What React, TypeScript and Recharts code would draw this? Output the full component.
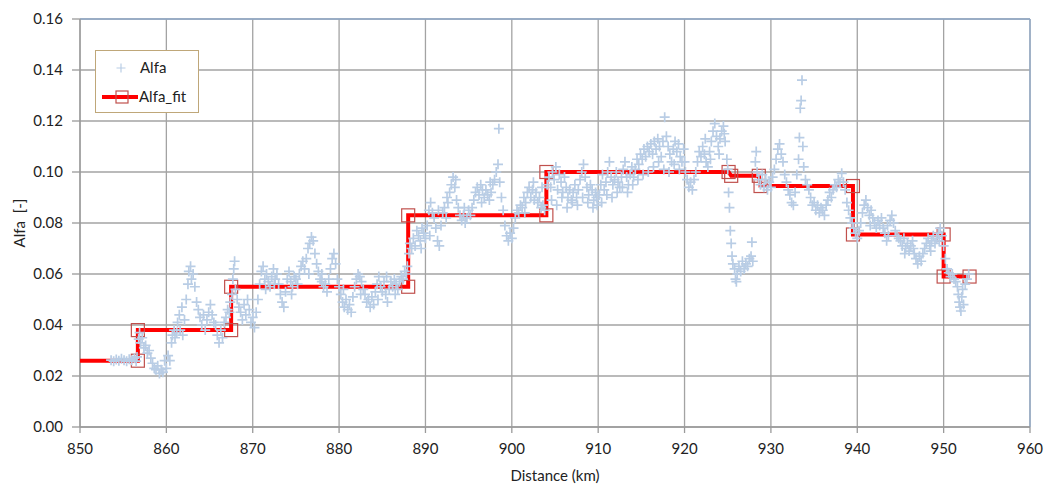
import React from 'react';
import { ScatterChart, Scatter, XAxis, YAxis, CartesianGrid, ReferenceLine } from 'recharts';

const xTicks = [850, 860, 870, 880, 890, 900, 910, 920, 930, 940, 950, 960];
const yTicks = [0, 0.02, 0.04, 0.06, 0.08, 0.1, 0.12, 0.14, 0.16];

// measured Alfa values: [distance km, alfa]
const alfaPoints: [number, number][] = [
  [853.6,0.0262],[853.9,0.0258],[854.2,0.0265],[854.5,0.026],[854.8,0.0268],[855.1,0.0262],[855.4,0.0258],[855.7,0.0266],[856.0,0.0262],[856.3,0.027],[856.5,0.0258],[856.6,0.0275],
  [856.8,0.0345],[856.9,0.037],[857.0,0.033],[857.2,0.035],[857.4,0.031],[857.6,0.032],[857.8,0.029],[858.0,0.03],[858.2,0.027],[858.4,0.025],[858.6,0.023],[858.8,0.0225],[859.0,0.024],[859.2,0.021],[859.4,0.0225],[859.6,0.0215],[859.8,0.026],[860.0,0.023],[860.2,0.028],[860.4,0.026],
  [860.6,0.033],[860.7,0.036],[860.9,0.038],[861.0,0.035],[861.2,0.037],[861.3,0.041],[861.5,0.044],[861.6,0.038],[861.8,0.047],[861.9,0.036],[862.1,0.042],[862.3,0.05],[862.5,0.056],[862.6,0.061],[862.8,0.063],[862.9,0.058],[863.1,0.06],[863.3,0.055],[863.5,0.049],[863.7,0.046],
  [863.9,0.043],[864.1,0.04],[864.3,0.044],[864.5,0.038],[864.7,0.042],[864.9,0.045],[865.1,0.048],[865.3,0.044],[865.5,0.041],[865.7,0.04],[865.9,0.036],[866.1,0.033],[866.3,0.038],[866.5,0.035],[866.7,0.041],[866.9,0.043],[867.1,0.046],[867.3,0.045],[867.4,0.049],
  [867.6,0.052],[867.7,0.058],[867.8,0.062],[867.9,0.065],[868.0,0.054],[868.2,0.05],[868.4,0.047],[868.6,0.045],[868.8,0.042],[869.0,0.048],[869.2,0.044],[869.4,0.05],[869.6,0.046],[869.8,0.041],[870.0,0.043],[870.2,0.039],[870.4,0.045],[870.6,0.05],
  [870.8,0.056],[871.0,0.061],[871.2,0.063],[871.4,0.058],[871.6,0.06],[871.8,0.057],[872.0,0.055],[872.2,0.059],[872.4,0.062],[872.6,0.058],[872.8,0.06],[873.0,0.056],[873.2,0.052],[873.4,0.049],[873.6,0.047],[873.8,0.053],[874.0,0.058],[874.2,0.061],[874.4,0.057],[874.6,0.055],[874.8,0.059],[875.0,0.058],[875.2,0.056],[875.4,0.06],[875.6,0.063],[875.8,0.065],
  [871.5,0.054],[872.5,0.056],[874.5,0.052],[876.5,0.06],[878.0,0.06],[880.5,0.054],[882.5,0.052],[884.5,0.05],[886.5,0.052],[885.5,0.059],
  [876.0,0.062],[876.2,0.066],[876.4,0.07],[876.6,0.072],[876.8,0.0745],[877.0,0.073],[877.2,0.068],[877.4,0.064],[877.6,0.061],[877.8,0.058],[878.0,0.057],[878.2,0.055],[878.4,0.056],[878.6,0.053],[878.8,0.058],[879.0,0.062],[879.2,0.066],[879.4,0.068],[879.6,0.064],[879.8,0.058],[880.0,0.055],
  [880.2,0.052],[880.4,0.049],[880.6,0.047],[880.8,0.05],[881.0,0.046],[881.2,0.048],[881.4,0.045],[881.6,0.051],[881.8,0.055],[882.0,0.058],[882.2,0.06],[882.4,0.059],[882.6,0.057],[882.8,0.054],[883.0,0.052],[883.2,0.049],[883.4,0.05],[883.6,0.047],[883.8,0.051],[884.0,0.048],
  [884.2,0.053],[884.4,0.056],[884.6,0.059],[884.8,0.055],[885.0,0.053],[885.2,0.057],[885.4,0.052],[885.6,0.049],[885.8,0.054],[886.0,0.057],[886.2,0.055],[886.4,0.058],[886.6,0.056],[886.8,0.054],[887.0,0.057],[887.2,0.059],[887.4,0.058],[887.6,0.061],[887.8,0.06],[887.9,0.063],
  [888.1,0.068],[888.2,0.072],[888.4,0.07],[888.6,0.074],[888.8,0.071],[889.0,0.077],[889.2,0.075],[889.4,0.073],[889.6,0.078],[889.8,0.076],[890.0,0.074],[890.2,0.079],[890.4,0.085],[890.6,0.088],[890.8,0.084],[891.0,0.082],[891.2,0.078],[891.4,0.073],[891.6,0.071],[891.8,0.079],
  [889.5,0.07],[890.5,0.075],[891.5,0.085],[892.5,0.09],[893.5,0.097],[894.5,0.086],[896.5,0.088],[897.5,0.096],[901.5,0.084],[902.5,0.096],[903.5,0.094],
  [892.0,0.084],[892.2,0.086],[892.4,0.082],[892.6,0.088],[892.8,0.092],[893.0,0.095],[893.2,0.098],[893.4,0.094],[893.6,0.089],[893.8,0.086],[894.0,0.083],[894.2,0.081],[894.4,0.083],[894.6,0.08],[894.8,0.082],[895.0,0.085],[895.2,0.083],[895.4,0.086],[895.6,0.089],[895.8,0.092],[896.0,0.094],[896.2,0.091],[896.4,0.095],[896.6,0.093],[896.8,0.09],[897.0,0.093],[897.2,0.091],[897.4,0.089],[897.6,0.092],[897.8,0.095],
  [898.0,0.097],[898.2,0.1],[898.4,0.103],[898.5,0.117],[898.6,0.096],[898.8,0.09],[899.0,0.085],[899.2,0.079],[899.4,0.075],[899.6,0.073],[899.8,0.076],[900.0,0.074],[900.2,0.078],[900.4,0.082],[900.6,0.085],[900.8,0.084],[901.0,0.087],[901.2,0.086],[901.4,0.09],[901.6,0.088],[901.8,0.092],[902.0,0.094],[902.2,0.09],[902.4,0.093],[902.6,0.089],[902.8,0.092],[903.0,0.088],[903.2,0.09],[903.4,0.086],[903.6,0.087],[903.8,0.085],
  [904.1,0.095],[904.3,0.098],[904.5,0.094],[904.7,0.1],[904.9,0.097],[905.1,0.102],[905.3,0.093],[905.5,0.099],[905.7,0.096],[905.9,0.092],[906.1,0.098],[906.3,0.094],[906.5,0.09],[906.7,0.093],[906.9,0.089],[907.1,0.092],[907.3,0.095],[907.5,0.09],[907.7,0.093],[907.9,0.097],[908.1,0.1],[908.3,0.103],[908.5,0.098],[908.7,0.094],[908.9,0.091],[909.1,0.095],[909.3,0.093],[909.5,0.089],[909.7,0.092],[909.9,0.087],
  [904.6,0.089],[905.2,0.087],[905.8,0.09],[906.4,0.086],[907.0,0.088],[907.6,0.087],[908.2,0.09],[908.8,0.088],[909.4,0.086],[909.8,0.09],
  [910.1,0.091],[910.3,0.095],[910.5,0.099],[910.7,0.093],[910.9,0.096],[911.1,0.1],[911.3,0.104],[911.5,0.098],[911.7,0.095],[911.9,0.097],[912.1,0.1],[912.3,0.096],[912.5,0.094],[912.7,0.098],[912.9,0.101],[913.1,0.104],[913.3,0.098],[913.5,0.095],[913.7,0.099],[913.9,0.102],[914.1,0.098],[914.3,0.101],[914.5,0.105],[914.7,0.103],[914.9,0.107],[915.1,0.105],[915.3,0.109],[915.5,0.106],[915.7,0.11],[915.9,0.108],
  [910.4,0.088],[911.0,0.091],[911.6,0.09],[912.2,0.092],[912.8,0.094],[913.4,0.092],[914.0,0.095],[914.6,0.097],[915.2,0.099],[915.8,0.1],
  [916.1,0.111],[916.3,0.107],[916.5,0.112],[916.7,0.109],[916.9,0.113],[917.1,0.11],[917.3,0.106],[917.5,0.112],[917.7,0.1215],[917.9,0.114],[918.1,0.11],[918.3,0.107],[918.5,0.104],[918.7,0.109],[918.9,0.112],[919.1,0.108],[919.3,0.111],[919.5,0.106],[919.7,0.104],[919.9,0.109],[920.1,0.1],[920.3,0.097],[920.5,0.094],[920.7,0.096],[920.9,0.093],[921.1,0.097],[921.3,0.1],
  [916.4,0.102],[917.0,0.104],[917.6,0.101],[918.2,0.1],[918.8,0.103],[919.4,0.101],[920.0,0.104],
  [921.5,0.104],[921.7,0.108],[921.9,0.106],[922.1,0.11],[922.3,0.107],[922.5,0.104],[922.7,0.102],[922.9,0.108],[923.1,0.112],[923.3,0.116],[923.5,0.119],[923.7,0.114],[923.9,0.11],[924.1,0.113],[924.3,0.116],[924.5,0.118],[924.7,0.112],[924.9,0.105],[925.0,0.101],
  [922.4,0.113],[923.0,0.105],[924.0,0.107],[924.6,0.115],
  [925.1,0.092],[925.2,0.086],[925.3,0.077],[925.4,0.072],[925.5,0.067],[925.6,0.064],[925.8,0.062],[925.9,0.058],[926.0,0.057],[926.1,0.06],[926.3,0.063],[926.5,0.061],[926.7,0.065],[926.9,0.062],[927.1,0.064],[927.3,0.063],[927.5,0.066],[927.7,0.067],[927.8,0.0725],[927.9,0.065],
  [928.2,0.104],[928.3,0.108],[928.4,0.1],[928.6,0.097],[928.8,0.095],[929.0,0.099],[929.2,0.094],[929.4,0.097],[929.6,0.093],[929.8,0.096],[930.0,0.094],[930.2,0.098],[930.4,0.101],[930.6,0.105],[930.8,0.109],[931.0,0.111],[931.2,0.107],[931.4,0.104],[931.6,0.099],[931.8,0.096],[932.0,0.093],[932.2,0.091],[932.4,0.088],[932.6,0.087],[932.8,0.092],[933.0,0.099],[933.2,0.105],[933.3,0.1135],[933.4,0.125],[933.5,0.128],[933.6,0.136],[933.7,0.11],[933.8,0.102],[934.0,0.097],
  [934.2,0.095],[934.4,0.093],[934.6,0.09],[934.8,0.087],[935.0,0.088],[935.2,0.085],[935.4,0.087],[935.6,0.084],[935.8,0.086],[936.0,0.085],[936.2,0.083],[936.4,0.087],[936.6,0.089],[936.8,0.092],[937.0,0.09],[937.2,0.093],[937.4,0.095],[937.6,0.094],[937.8,0.097],[938.0,0.096],[938.2,0.0995],[938.4,0.096],[938.6,0.093],[938.8,0.088],[939.0,0.085],[939.2,0.082],[939.4,0.08],
  [939.6,0.078],[939.8,0.076],[940.0,0.074],[940.2,0.077],[940.4,0.08],[940.6,0.084],[940.8,0.087],[941.0,0.089],[941.2,0.086],[941.4,0.083],[941.6,0.085],[941.8,0.082],[942.0,0.08],[942.2,0.078],[942.4,0.081],[942.6,0.079],[942.8,0.082],[943.0,0.078],[943.2,0.076],[943.4,0.073],[943.6,0.075],[943.8,0.081],[944.0,0.083],[944.2,0.08],[944.4,0.077],[944.6,0.075],[944.8,0.074],
  [941.5,0.079],[943.5,0.079],[945.5,0.068],[946.5,0.07],[948.5,0.069],[949.5,0.073],
  [945.0,0.073],[945.2,0.071],[945.4,0.074],[945.6,0.07],[945.8,0.072],[946.0,0.069],[946.2,0.071],[946.4,0.073],[946.6,0.068],[946.8,0.066],[947.0,0.064],[947.2,0.067],[947.4,0.065],[947.6,0.068],[947.8,0.07],[948.0,0.072],[948.2,0.074],[948.4,0.071],[948.6,0.073],[948.8,0.075],[949.0,0.072],[949.2,0.074],[949.4,0.076],[949.6,0.078],[949.8,0.075],[950.0,0.071],
  [950.2,0.066],[950.4,0.062],[950.6,0.0605],[950.8,0.059],[951.0,0.06],[951.2,0.058],[951.4,0.057],[951.6,0.055],[951.7,0.052],[951.8,0.049],[951.9,0.047],[952.0,0.0455],[952.1,0.051],[952.2,0.054],[952.3,0.048],[952.5,0.056],[952.7,0.058],[952.9,0.06],
];

// step fit
const fitDistance = [850, 856.7, 856.7, 867.5, 867.5, 888.0, 888.0, 904.0, 904.0, 925.1, 925.4, 928.6, 928.8, 939.5, 939.5, 950.0, 950.0, 953.0];
const fitAlfa = [0.026, 0.026, 0.038, 0.038, 0.055, 0.055, 0.083, 0.083, 0.1, 0.1, 0.0985, 0.0985, 0.0945, 0.0945, 0.0755, 0.0755, 0.059, 0.059];

const alfaData = alfaPoints.map(([x, y]) => ({ x, y }));
const fitData = fitDistance.map((x, i) => ({ x, y: fitAlfa[i] }));

const CROSS = '#B9CDE5';
const FIT = '#FF0000';
const SQUARE = '#C0504D';
const font = 'Lato, "Open Sans", sans-serif';

const Cross = (props: any) => {
  const { cx, cy } = props;
  if (cx == null || cy == null) return <g />;
  return <path d={`M${cx - 5},${cy}h10M${cx},${cy - 5}v10`} stroke={CROSS} strokeWidth={1.7} fill="none" />;
};

const Square = (props: any) => {
  const { cx, cy, payload } = props;
  if (cx == null || payload?.x === fitDistance[0]) return <g />;
  return <rect x={cx - 6.5} y={cy - 6.5} width={13} height={13} fill="none" stroke={SQUARE} strokeWidth={1.2} />;
};

const LegendBox = () => (
  <div
    style={{
      position: 'absolute',
      left: 95,
      top: 50,
      width: 102,
      height: 61,
      border: '1px solid #BFA779',
      background: '#fff',
    }}
  >
    <svg width={102} height={61} style={{ display: 'block' }}>
      <path d="M20.5,17h9M25,12.5v9" stroke={CROSS} strokeWidth={1.2} fill="none" />
      <line x1={6} y1={46} x2={42} y2={46} stroke={FIT} strokeWidth={4} />
      <rect x={20} y={40} width={12} height={12} fill="none" stroke={SQUARE} strokeWidth={1.2} />
      <text x={44} y={22} fontSize={15} fontFamily={font} fill="#222">Alfa</text>
      <text x={43} y={51} fontSize={15} fontFamily={font} fill="#222">Alfa_fit</text>
    </svg>
  </div>
);

export default function App() {
  return (
    <div style={{ position: 'absolute', left: 0, top: 0, width: 1044, height: 485, background: '#fff' }}>
      <ScatterChart width={1044} height={485} margin={{ top: 19, right: 14, bottom: 0, left: 0 }}>
        <CartesianGrid stroke="#a3a3a3" strokeWidth={1.3} />
        <XAxis
          type="number"
          dataKey="x"
          domain={[850, 960]}
          ticks={xTicks}
          allowDataOverflow
          height={58}
          stroke="#9a9a9a"
          strokeWidth={1.3}
          tickSize={6}
          tickMargin={10}
          tick={{ fill: '#222', fontSize: 15, fontFamily: font }}
          label={{ value: 'Distance (km)', position: 'insideBottom', offset: 4, fill: '#222', fontSize: 15, fontFamily: font }}
        />
        <YAxis
          type="number"
          dataKey="y"
          domain={[0, 0.16]}
          ticks={yTicks}
          allowDataOverflow
          width={80}
          stroke="#9a9a9a"
          strokeWidth={1.3}
          tickSize={8}
          tickMargin={9}
          tickFormatter={(v: number) => v.toFixed(2)}
          tick={{ fill: '#222', fontSize: 15, fontFamily: font }}
          label={{ value: 'Alfa\u00a0\u00a0[-]', angle: -90, position: 'insideLeft', offset: 20, fill: '#222', fontSize: 15, fontFamily: font, style: { textAnchor: 'middle' } }}
        />
        <ReferenceLine y={0.16} stroke="#8fa9c9" strokeWidth={1.3} />
        <ReferenceLine x={960} stroke="#8fa9c9" strokeWidth={1.3} />
        <Scatter
          name="Alfa_fit"
          data={fitData}
          line={{ stroke: FIT, strokeWidth: 4 }}
          lineType="joint"
          shape={Square}
          isAnimationActive={false}
        />
        <Scatter name="Alfa" data={alfaData} shape={Cross} isAnimationActive={false} />
      </ScatterChart>
      <LegendBox />
    </div>
  );
}
